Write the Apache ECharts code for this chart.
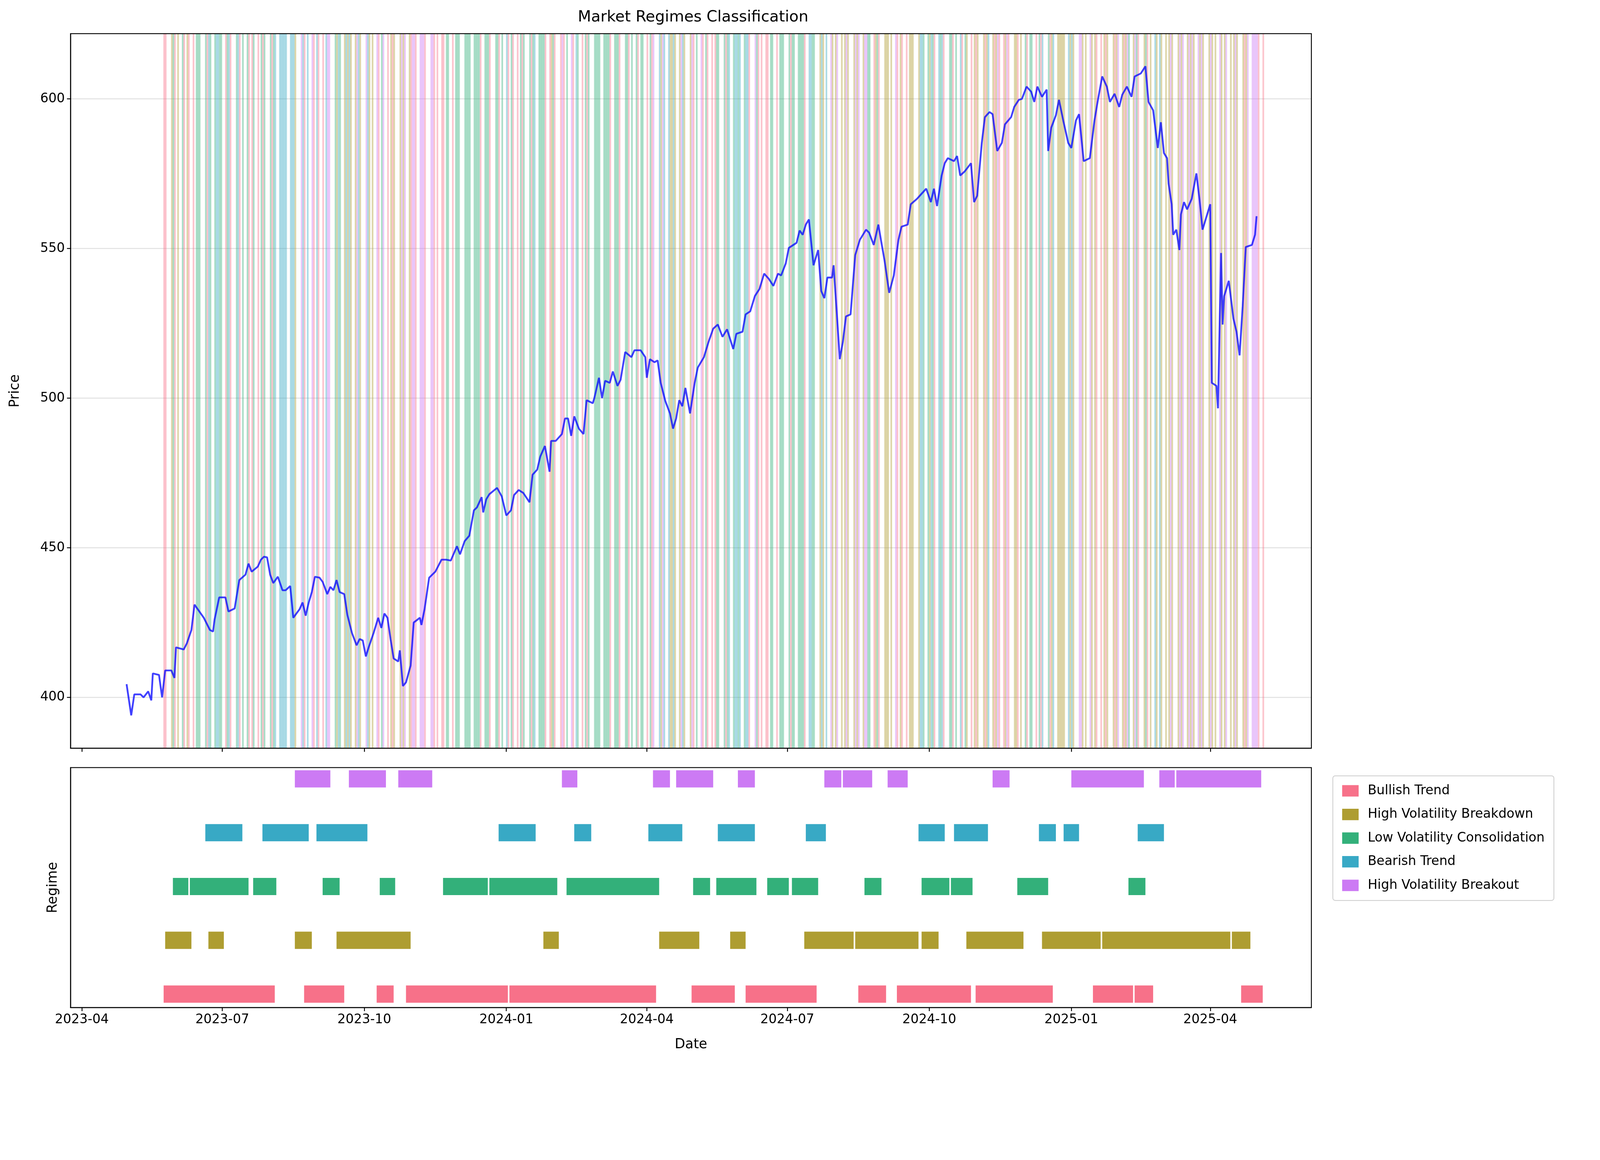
<!DOCTYPE html>
<html><head><meta charset="utf-8">
<script src="https://cdn.jsdelivr.net/npm/echarts@6/dist/echarts.min.js"></script>
<style>html,body{margin:0;padding:0;background:#fff;overflow:hidden}#c{width:100vw;height:100vh}</style>
</head><body><div id="c"></div>
<script>
// Dates expressed as days since 2023-04-01
const priceDays=[29,32,34,38,40,43,45,46,50,52,54,58,60,61,66,68,71,73,79,83,85,86,89,93,95,99,102,106,108,110,114,116,118,120,122,124,127,130,132,135,137,141,143,145,147,149,151,154,156,159,161,163,165,167,170,172,175,178,180,182,184,186,189,192,194,196,198,200,202,205,206,208,210,213,215,219,220,222,225,229,233,236,239,243,245,248,251,254,256,259,260,262,264,269,272,275,278,280,283,286,290,292,295,297,300,303,304,307,311,313,315,317,319,322,325,327,331,332,335,337,339,342,344,347,349,352,356,358,362,365,366,368,371,373,375,378,381,383,385,387,389,391,394,397,399,403,406,409,412,415,418,422,424,428,430,433,436,439,442,445,448,451,453,456,458,463,465,467,469,471,474,477,479,481,483,486,487,489,491,493,495,498,501,504,508,510,513,516,518,520,523,526,529,531,535,537,541,544,547,550,552,554,557,559,561,565,567,569,572,576,578,580,583,585,588,590,593,596,598,602,604,607,609,612,615,617,619,622,625,626,628,631,633,636,639,641,644,646,649,653,656,658,661,664,666,669,672,674,677,680,682,686,689,691,694,697,699,701,703,704,706,707,709,711,712,714,716,719,722,724,726,728,731,732,735,736,738,739,740,743,746,748,750,752,754,758,760,761];
const priceVals=[404.4,394,401,401,400,402,399,408,407.5,400,409,409,406.5,416.7,416,418,422.5,431,426.6,422.5,422,426,433.4,433.4,428.7,429.7,439.2,441,444.7,442,443.7,446,447,446.8,441,438.2,440.3,435.8,435.8,437.2,426.6,429.4,431.7,427.3,431.7,435.2,440.3,440,438.6,434.5,436.9,435.8,439.2,435.2,434.5,427.6,421.5,417.4,419.5,419,413.7,417,421.5,426.6,423.2,428,426.6,419.5,413,412,415.7,403.8,405,410.6,425,426.6,424.2,429.4,440,442,446,446,445.7,450.5,447.8,452.2,454,462.5,463.5,466.9,461.8,466.2,467.9,470,467.2,460.8,462.5,467.6,469.3,468.3,465.2,474.4,476.1,480.5,484,475.4,485.7,485.7,488,493.2,493.2,487.4,493.9,489.8,488,499.3,498.3,500,506.8,500,505.8,505.1,508.9,504.1,506.1,515.4,513.7,516,516,513.7,506.8,513,512,512.6,505.1,499,494.9,489.8,493.2,499.3,497.3,503.4,494.9,505.1,510.2,513.7,518.8,523.2,524.6,520.5,523,516.4,521.5,522.2,528,529,534.1,536.5,541.6,539.9,537.5,541.6,541,545,550.2,551.9,556,554.6,558,559.7,544.4,549.5,535.8,533.4,540.3,540.3,544.4,529,513,518.8,527.3,528,547.8,552.9,556.3,555.3,551.2,558,551.9,546,535.2,541,552.9,557.3,558,564.8,566.6,568.3,570,565.5,570,564.2,574.4,578.5,580.2,579.2,580.9,574.4,575.8,578.5,565.5,567.6,585.3,593.9,595.6,594.9,582.6,585.3,591.5,593.9,597.3,599.7,600,604.1,602.4,599,604.1,600.7,603.1,582.6,590.4,594.5,599.7,592.2,585.3,583.6,592.8,594.9,579.2,580.2,592.8,599,607.5,604.1,599,601.7,597.3,601.4,604.1,600.7,607.5,608.5,610.9,599,596.2,583.6,592.2,581.9,580.2,571.7,564.8,554.6,556.3,549.5,561.4,565.5,563.1,566.6,575.1,566.6,556.3,559.7,564.8,505.1,504.1,496.6,548.5,524.6,534.1,539.2,526.6,522.2,514.3,530.7,550.5,551.2,554.6,560.8];
const regimes=['Bullish Trend','High Volatility Breakdown','Low Volatility Consolidation','Bearish Trend','High Volatility Breakout'];
const regimeColors=['#f77189','#ae9d31','#33b07a','#38a9c5','#cc7af4'];
const segBullish=[['2023-05-24','2023-08-04'],['2023-08-23','2023-09-18'],['2023-10-09','2023-10-20'],['2023-10-28','2024-01-02'],['2024-01-03','2024-04-07'],['2024-04-30','2024-05-28'],['2024-06-04','2024-07-20'],['2024-08-16','2024-09-03'],['2024-09-10','2024-10-28'],['2024-10-31','2024-12-20'],['2025-01-15','2025-02-10'],['2025-02-11','2025-02-23'],['2025-04-21','2025-05-05']];
const segBreakdown=[['2023-05-25','2023-06-11'],['2023-06-22','2023-07-02'],['2023-08-17','2023-08-28'],['2023-09-13','2023-10-31'],['2024-01-25','2024-02-04'],['2024-04-09','2024-05-05'],['2024-05-25','2024-06-04'],['2024-07-12','2024-08-13'],['2024-08-14','2024-09-24'],['2024-09-26','2024-10-07'],['2024-10-25','2024-12-01'],['2024-12-13','2025-01-20'],['2025-01-21','2025-04-14'],['2025-04-15','2025-04-27']];
const segLowVol=[['2023-05-30','2023-06-09'],['2023-06-10','2023-07-18'],['2023-07-21','2023-08-05'],['2023-09-04','2023-09-15'],['2023-10-11','2023-10-21'],['2023-11-21','2023-12-20'],['2023-12-21','2024-02-03'],['2024-02-09','2024-04-09'],['2024-05-01','2024-05-12'],['2024-05-16','2024-06-11'],['2024-06-18','2024-07-02'],['2024-07-04','2024-07-21'],['2024-08-20','2024-08-31'],['2024-09-26','2024-10-14'],['2024-10-15','2024-10-29'],['2024-11-27','2024-12-17'],['2025-02-07','2025-02-18']];
const segBearish=[['2023-06-20','2023-07-14'],['2023-07-27','2023-08-26'],['2023-08-31','2023-10-03'],['2023-12-27','2024-01-20'],['2024-02-14','2024-02-25'],['2024-04-02','2024-04-24'],['2024-05-17','2024-06-10'],['2024-07-13','2024-07-26'],['2024-09-24','2024-10-11'],['2024-10-17','2024-11-08'],['2024-12-11','2024-12-22'],['2024-12-27','2025-01-06'],['2025-02-13','2025-03-02']];
const segBreakout=[['2023-08-17','2023-09-09'],['2023-09-21','2023-10-15'],['2023-10-23','2023-11-14'],['2024-02-06','2024-02-16'],['2024-04-05','2024-04-16'],['2024-04-20','2024-05-14'],['2024-05-30','2024-06-10'],['2024-07-25','2024-08-05'],['2024-08-06','2024-08-25'],['2024-09-04','2024-09-17'],['2024-11-11','2024-11-22'],['2025-01-01','2025-02-17'],['2025-02-27','2025-03-09'],['2025-03-10','2025-05-04']];
const tickDays=[0,91,183,275,366,457,549,641,731];
const tickLabels=['2023-04','2023-07','2023-10','2024-01','2024-04','2024-07','2024-10','2025-01','2025-04'];

const S=Math.min(window.innerWidth/4468, window.innerHeight/2969);
const px=v=>v*S, py=v=>v*S;
const BASE=Date.UTC(2023,3,1);
const toDay=s=>{const [y,m,d]=s.split('-').map(Number);return (Date.UTC(y,m-1,d)-BASE)/86400000;};
const allSegs=[segBullish,segBreakdown,segLowVol,segBearish,segBreakout];
const segDays=allSegs.map(l=>l.map(([a,b])=>[toDay(a),toDay(b)]));
const XMIN=-7.3,XMAX=796.5;
const stripes=[];
for(let d=0;d<=770;d++){
  const wd=(6+d)%7; if(wd===0||wd===6) continue;
  if((d*7)%6===1) continue;
  let cov=[];
  segDays.forEach((l,ri)=>l.forEach(([a,b])=>{if(d>=a&&d<=b&&cov.indexOf(ri)<0)cov.push(ri);}));
  if(!cov.length) continue;
  if(cov.length>1 && (d%3)!==0) cov=cov.filter(r=>r!==0);
  const ri=cov[(d*5)%cov.length];
  stripes.push([{xAxis:d,itemStyle:{color:regimeColors[ri],opacity:0.3,borderColor:regimeColors[ri],borderWidth:px(2)}},{xAxis:d+0.7}]);
}
const segData=[];
segDays.forEach((l,ri)=>l.forEach(([a,b])=>segData.push([a,b,ri])));
const font='DejaVu Sans';
const chart=echarts.init(document.getElementById('c'));
const xCommon={type:'value',min:XMIN,max:XMAX,
  axisLine:{show:true,onZero:false,lineStyle:{color:'#000',width:px(2.5)}},
  axisTick:{show:true,customValues:tickDays,length:px(10),lineStyle:{color:'#000',width:px(2.5)}},
  splitLine:{show:false}};
const series=[{type:'line',xAxisIndex:0,yAxisIndex:0,data:priceDays.map((d,i)=>[d,priceVals[i]]),
  showSymbol:false,symbol:'none',lineStyle:{color:'rgba(0,0,255,0.75)',width:px(5)},z:5,
  markArea:{silent:true,data:stripes}}];
regimes.forEach((r,ri)=>series.push({type:'custom',name:r,xAxisIndex:1,yAxisIndex:1,
  itemStyle:{color:regimeColors[ri]},
  data:segData.filter(s=>s[2]===ri),
  renderItem:(p,api)=>{const s=api.coord([api.value(0),api.value(2)]);const e=api.coord([api.value(1),api.value(2)]);
    const h=api.size([0,0.32])[1];
    return {type:'rect',shape:{x:s[0],y:s[1]-h/2,width:e[0]-s[0],height:h},style:{fill:regimeColors[ri]}};},
  encode:{x:[0,1],y:2}}));
const fs=px(36), fl=px(38);
chart.setOption({
  animation:false,backgroundColor:'#fff',
  title:{text:'Market Regimes Classification',left:px(1930),top:py(22),textAlign:'center',textStyle:{fontFamily:font,fontSize:px(43),fontWeight:'normal',color:'#000'}},
  legend:{orient:'vertical',left:px(3722),top:py(2166),padding:[py(24),px(26),py(24),px(26)],itemGap:py(30),itemWidth:px(46),itemHeight:py(32),
    borderColor:'#ccc',borderWidth:2,borderRadius:6,icon:'rect',
    textStyle:{fontFamily:font,fontSize:fs,color:'#000',padding:[0,0,0,px(20)]},data:regimes},
  grid:[{left:px(197),width:px(3465),top:py(94),height:py(1995)},{left:px(197),width:px(3465),top:py(2143),height:py(670)}],
  xAxis:[Object.assign({gridIndex:0,axisLabel:{show:false}},xCommon),
    Object.assign({gridIndex:1,name:'Date',nameLocation:'middle',nameGap:py(85),nameTextStyle:{fontFamily:font,fontSize:fl,color:'#000'},
      axisLabel:{customValues:tickDays,formatter:v=>tickLabels[tickDays.indexOf(Math.round(v))]||'',fontFamily:font,fontSize:fs,color:'#000',margin:py(16)}},xCommon)],
  yAxis:[{gridIndex:0,type:'value',min:383,max:621.8,interval:50,
      axisLabel:{customValues:[400,450,500,550,600],fontFamily:font,fontSize:fs,color:'#000',margin:px(16)},
      axisTick:{show:true,customValues:[400,450,500,550,600],length:px(10),lineStyle:{color:'#000',width:px(2.5)}},
      axisLine:{show:true,onZero:false,lineStyle:{color:'#000',width:px(2.5)}},
      splitLine:{show:true,lineStyle:{color:'rgba(0,0,0,0.12)',width:px(2.5)}},
      name:'Price',nameLocation:'middle',nameGap:px(135),nameTextStyle:{fontFamily:font,fontSize:fl,color:'#000'}},
    {gridIndex:1,type:'value',min:-0.25,max:4.21,axisLabel:{show:false},axisTick:{show:false},
      axisLine:{show:true,onZero:false,lineStyle:{color:'#000',width:px(2.5)}},splitLine:{show:false},
      name:'Regime',nameLocation:'middle',nameGap:px(30),nameTextStyle:{fontFamily:font,fontSize:fl,color:'#000'}}],
  series,
  graphic:[
  {type:'rect',shape:{x:px(197),y:py(94),width:px(3465),height:py(1995)},style:{fill:'none',stroke:'#000',lineWidth:px(2.5)},z:100},
  {type:'rect',shape:{x:px(197),y:py(2143),width:px(3465),height:py(670)},style:{fill:'none',stroke:'#000',lineWidth:px(2.5)},z:100}]
});
</script></body></html>
